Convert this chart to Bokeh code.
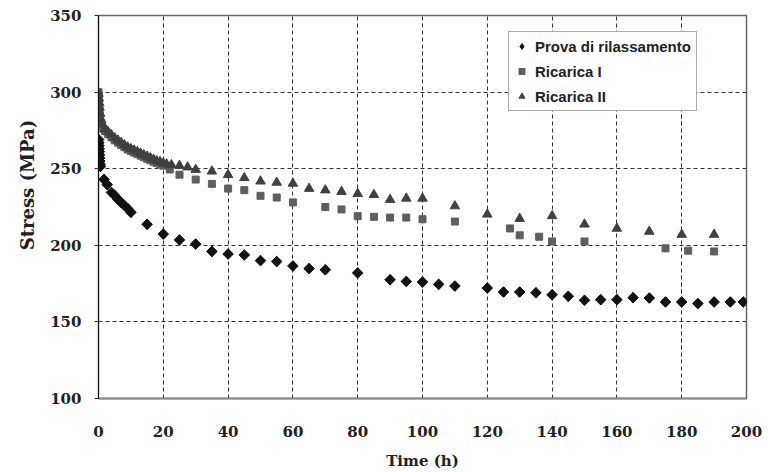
import numpy as np
from bokeh.plotting import figure
from bokeh.models import Range1d, FixedTicker, Legend, LegendItem
from bokeh.embed import file_html
from bokeh.resources import INLINE

# Relaxation test: time (h) and stress (MPa)
relax_t = [0.05, 0.1, 0.15, 0.2, 0.25, 0.3, 0.35, 0.4, 0.5, 0.6,
           1.7, 2.7, 4, 5, 6, 7, 8, 9, 10,
           15, 20, 25, 30, 35, 40, 45, 50, 55, 60, 65, 70, 80, 90, 95, 100,
           105, 110, 120, 125, 130, 135, 140, 145, 150, 155, 160, 165, 170,
           175, 180, 185, 190, 195, 199]
relax_s = [269, 267, 265, 263, 261, 259, 257, 255, 253, 251.5,
           243, 239.6, 234.5, 232.5, 230, 228, 226, 224, 221.5,
           213.7, 207.3, 203.5, 200.8, 196, 194.3, 193.7, 190, 189.4, 186.5,
           184.8, 184, 182, 177.5, 176.4, 176, 174.5, 173.4, 172.1, 169.5,
           169.5, 169, 167.7, 166.7, 164.1, 164.5, 164.5, 165.8, 165.6, 163,
           163, 162, 163, 163, 163]

# First reload
reload1_t = [0, 0.05, 0.1, 0.15, 0.2, 0.25, 0.3, 0.4, 0.5, 0.75, 1, 1.5,
             2, 3, 4, 5, 6, 7, 8, 9, 10, 11, 12, 13, 14, 15, 16, 17, 18, 19, 20,
             22, 25, 30, 35, 40, 45, 50, 55, 60, 70, 75, 80, 85, 90, 95, 100,
             110, 127, 130, 136, 140, 150, 175, 182, 190]
reload1_s = [300, 298, 296, 294, 292, 290, 288, 285, 283, 280, 278, 276,
             274.5, 272.5, 270.5, 268.5, 267, 265.5, 264, 262.5, 261.5, 260.5,
             259.5, 258.5, 257.5, 256.5, 255.5, 254.5, 253.7, 253, 252,
             249.5, 246.1, 242.9, 240.1, 237, 236, 232.3, 231.2, 228, 225,
             223.4, 219, 218.6, 218.1, 218.1, 217, 215.5, 211, 206.5, 205.6,
             202.5, 202.5, 198, 196.5, 196]

# Second reload
reload2_t = [0, 0.1, 0.2, 0.3, 0.5, 0.8, 1.2,
             2, 3, 4, 5, 6, 7, 8, 9, 10, 11, 12, 13, 14, 15, 16, 17, 18, 19, 20, 21,
             22.5, 25, 27.5, 30, 35, 40, 45, 50, 55, 60, 65, 70, 75, 80, 85, 90,
             95, 100, 110, 120, 130, 140, 150, 160, 170, 180, 190]
reload2_s = [299, 296, 293, 290, 286, 282, 279,
             276, 274, 272, 270, 268.5, 267, 265.5, 264, 263, 262, 261, 260, 259,
             258, 257, 256, 255, 254.5, 253.5, 253,
             252.5, 252, 251, 249.4, 248.3, 246, 244, 241.8, 241, 240.4, 237, 236,
             235, 233.6, 233, 229.8, 230.6, 230.6, 225.6, 220.2, 217.4, 219.2,
             213.7, 211, 209, 207, 207]

x_ticks = [0, 20, 40, 60, 80, 100, 120, 140, 160, 180, 200]
y_ticks = [100, 150, 200, 250, 300, 350]

p = figure(width=776, height=472, output_backend="svg", toolbar_location=None,
           x_range=Range1d(0, 200), y_range=Range1d(100, 350),
           min_border_left=98, min_border_right=30, min_border_top=15,
           min_border_bottom=70)

p.background_fill_color = "white"
p.border_fill_color = "white"
p.outline_line_color = "#666666"
p.outline_line_width = 1.5

# grid
for g in (p.xgrid, p.ygrid):
    g.grid_line_color = "#333333"
    g.grid_line_dash = "4 3"
    g.grid_line_width = 1
p.xgrid.ticker = FixedTicker(ticks=x_ticks)
p.ygrid.ticker = FixedTicker(ticks=y_ticks)

# axes
p.xaxis.ticker = FixedTicker(ticks=x_ticks)
p.yaxis.ticker = FixedTicker(ticks=y_ticks)
p.xaxis.axis_label = "Time (h)"
# leading no-break spaces lift the vertical title a little above the frame centre
p.yaxis.axis_label = "\u00a0" * 7 + "Stress (MPa)"
for ax in (p.xaxis, p.yaxis):
    ax.major_label_text_font = "DejaVu Serif"
    ax.major_label_text_font_style = "bold"
    ax.major_label_text_font_size = "15px"
    ax.major_label_text_color = "#222222"
    ax.axis_label_text_font = "DejaVu Serif"
    ax.axis_label_text_font_style = "bold"
    ax.axis_label_text_color = "#222222"
    ax.minor_tick_line_color = None
p.xaxis.axis_label_text_font_size = "15px"
p.yaxis.axis_label_text_font_size = "18px"
p.xaxis.major_tick_line_color = None
p.xaxis.major_label_standoff = 21
p.xaxis.axis_label_standoff = 12
p.xaxis.axis_line_color = "#888888"
p.xaxis.axis_line_width = 2
p.yaxis.major_tick_in = 0
p.yaxis.major_tick_out = 4
p.yaxis.major_tick_line_color = "#333333"
p.yaxis.axis_line_color = "#111111"
p.yaxis.major_label_standoff = 13
p.yaxis.axis_label_standoff = 9

# relaxation points: rotated squares, with a diamond layer beneath for the legend key
r_relax = p.scatter(relax_t, relax_s, marker="diamond", size=10,
                    fill_color="#111111", line_color="#111111")
p.scatter(relax_t, relax_s, marker="square", angle=np.pi / 4, size=7.5,
          fill_color="#111111", line_color="#111111")
r_re1 = p.scatter(reload1_t, reload1_s, marker="square", size=7,
                  fill_color="#5e5e5e", line_color="#5e5e5e")
r_re2 = p.scatter(reload2_t, reload2_s, marker="triangle", size=9.5,
                  fill_color="#404040", line_color="#404040")

legend = Legend(items=[
    LegendItem(label="Prova di rilassamento", renderers=[r_relax]),
    LegendItem(label="Ricarica I", renderers=[r_re1]),
    LegendItem(label="Ricarica II", renderers=[r_re2]),
], location=(410, 287))
legend.label_text_font = "Liberation Sans"
legend.label_text_font_style = "bold"
legend.label_text_font_size = "15px"
legend.label_text_color = "#222222"
legend.border_line_color = "#555555"
legend.border_line_width = 1
legend.background_fill_color = "white"
legend.background_fill_alpha = 1
legend.glyph_width = 15
legend.glyph_height = 18
legend.label_height = 18
legend.spacing = 7
legend.padding = 5
legend.margin = 0
legend.label_standoff = 6
p.add_layout(legend, "center")

open("out.html", "w").write(file_html(p, INLINE))
